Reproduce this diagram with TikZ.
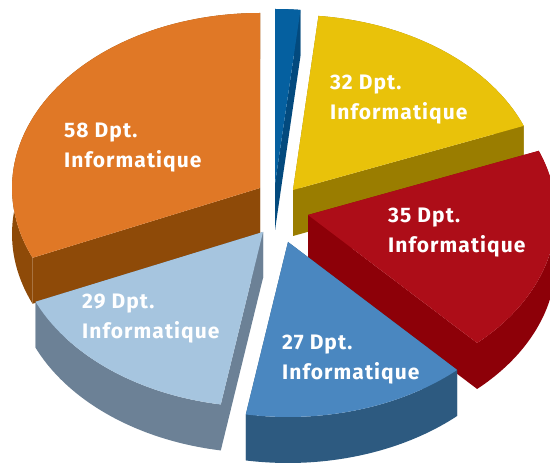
\documentclass[tikz,border=0pt]{standalone}
\usepackage{fontspec}
\setmainfont{Fira Sans}[LetterSpace=5]
\usepackage{xcolor}
\usepackage{tikz}

\definecolor{orangetop}{HTML}{E07826}
\definecolor{orangeside}{HTML}{8E4A08}
\definecolor{navytop}{HTML}{0560A0}
\definecolor{navyside}{HTML}{034A7E}
\definecolor{yellowtop}{HTML}{E9C20A}
\definecolor{yellowside}{HTML}{9A7D00}
\definecolor{redtop}{HTML}{AD0D18}
\definecolor{redside}{HTML}{8D0008}
\definecolor{bluetop}{HTML}{4A87C0}
\definecolor{blueside}{HTML}{2D5A80}
\definecolor{skytop}{HTML}{A6C5DF}
\definecolor{skyside}{HTML}{6C8196}

% apex, start angle, end angle, top colour, side colour
\newcommand{\pieslice}[5]{%
  \fill[#5] (#1) -- ++(#2:248 and 175) -- ++(0,-46) -- ++(#2+180:248 and 175) -- cycle;
  \fill[#5] (#1) -- ++(#3:248 and 175) -- ++(0,-46) -- ++(#3+180:248 and 175) -- cycle;
  \fill[#5] (#1) ++(#2:248 and 175) arc[start angle=#2, end angle=#3, x radius=248, y radius=175]
    -- ++(0,-46) arc[start angle=#3, end angle=#2, x radius=248, y radius=175] -- cycle;
  \fill[#4] (#1) -- ++(#2:248 and 175) arc[start angle=#2, end angle=#3, x radius=248, y radius=175] -- cycle;
}

\begin{document}
\begin{tikzpicture}[x=1pt, y=1pt]
\useasboundingbox (0,0) rectangle (550,464);
\begin{scope}[every node/.style={}]

    \coordinate (O58) at (260, 276);
    \coordinate (O3) at (275, 280);
    \coordinate (O32) at (293, 274);
    \coordinate (O35) at (308, 249);
    \coordinate (O29) at (263, 232);
    \coordinate (O27) at (288, 222);
\end{scope}

    % slices, back to front
    \pieslice{O58}{203.5}{90}{orangetop}{orangeside}
    \pieslice{O3}{90}{84.1}{navytop}{navyside}
    \pieslice{O32}{84.1}{21.5}{yellowtop}{yellowside}
    \pieslice{O35}{21.5}{-47}{redtop}{redside}
    \pieslice{O29}{-99.8}{-156.5}{skytop}{skyside}
    \pieslice{O27}{-47}{-99.8}{bluetop}{blueside}

\begin{scope}[
    every node/.style={anchor=north west, inner sep=0pt, align=left, text=white,
      font=\fontsize{21}{30}\selectfont\bfseries}
]
    \node (L58) at (64, 341) {58 Dpt.\\Informatique};
    \node (L32) at (330, 389) {32 Dpt.\\Informatique};
    \node (L35) at (388, 256) {35 Dpt.\\Informatique};
    \node (L29) at (82, 170) {29 Dpt.\\Informatique};
    \node (L27) at (282, 129) {27 Dpt.\\Informatique};
\end{scope}
\end{tikzpicture}
\end{document}
